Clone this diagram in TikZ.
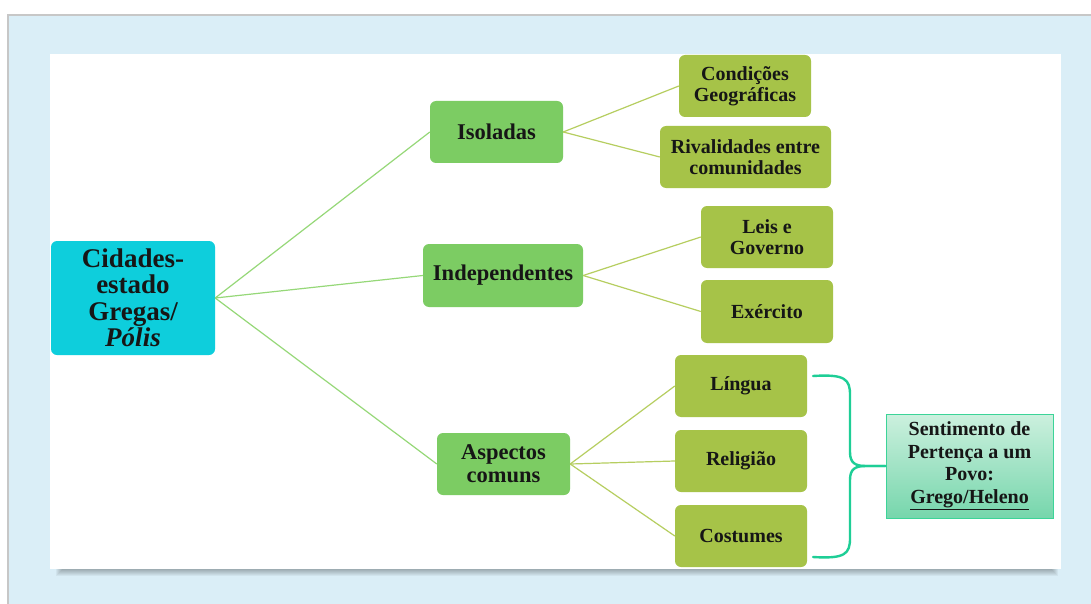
\documentclass[tikz,border=0pt]{standalone}
\usepackage{fontspec}
\setmainfont{Liberation Serif}
\definecolor{bgblue}{RGB}{218,238,247}
\definecolor{rootc}{RGB}{14,206,220}
\definecolor{midc}{RGB}{124,204,99}
\definecolor{leafc}{RGB}{166,195,72}
\definecolor{rootline}{RGB}{150,216,120}
\definecolor{leafline}{RGB}{182,206,96}
\definecolor{bracec}{RGB}{30,206,150}
\definecolor{senttop}{RGB}{204,240,222}
\definecolor{sentbot}{RGB}{118,214,172}
\definecolor{sentdraw}{RGB}{60,212,152}
\definecolor{txt}{RGB}{22,22,22}
\tikzset{
  box/.style={rounded corners=6pt, inner sep=0pt, align=center, text=txt, font=\bfseries},
  rootbox/.style={box, fill=rootc, minimum width=164pt, minimum height=114pt, font=\bfseries\fontsize{27}{26.5}\selectfont},
  midbox/.style={box, fill=midc, minimum height=62pt, font=\bfseries\fontsize{22.5}{23}\selectfont},
  leafbox/.style={box, fill=leafc, minimum height=62pt, minimum width=132pt, font=\bfseries\fontsize{20}{21.5}\selectfont},
  rootlink/.style={rootline, line width=1.2pt},
  leaflink/.style={leafline, line width=1.2pt},
}
\begin{document}
\begin{tikzpicture}[x=1pt,y=-1pt]
\useasboundingbox (0,0) rectangle (1091,604);
\fill[white] (0,0) rectangle (1091,604);
\fill[bgblue] (8,15) rectangle (1091,604);
\draw[black!22, line width=1.2pt] (8,604) -- (8,15) -- (1091,15);
% shadow of panel
\foreach \i in {0,...,7} {
  \fill[black, opacity=0.045] (56+\i,560) rectangle (1058-\i,576-\i);
}
\fill[white] (50,54) rectangle (1061,569);

% nodes
\node[rootbox] (root) at (133,298) {Cidades-\\estado\\Gregas/\\\textit{Pólis}};
\node[midbox, minimum width=133pt] (iso) at (496.5,132) {Isoladas};
\node[midbox, minimum width=160pt, minimum height=63pt] (ind) at (503,275.5) {Independentes};
\node[midbox, minimum width=133pt] (asp) at (503.5,464) {Aspectos\\comuns};

\node[leafbox] (cond) at (745,86) {Condições\\Geográficas};
\node[leafbox, minimum width=171pt] (riv) at (745.5,157) {Rivalidades entre\\comunidades};
\node[leafbox] (leis) at (767,237) {Leis e\\Governo};
\node[leafbox, minimum height=63pt] (exe) at (767,311.5) {Exército};
\node[leafbox] (lin) at (741,386) {Língua};
\node[leafbox] (rel) at (741,461) {Religião};
\node[leafbox] (cos) at (741,536) {Costumes};

\node[draw=sentdraw, line width=1pt, top color=senttop, bottom color=sentbot,
      minimum width=167pt, minimum height=104pt, inner sep=0pt, align=center, text=txt,
      font=\bfseries\fontsize{20}{22.5}\selectfont] (sent) at (969.5,466)
      {Sentimento de\\Pertença a um\\Povo:\\\underline{Grego/Heleno}};

% connectors
\draw[rootlink] (root.east) -- (iso.west);
\draw[rootlink] (root.east) -- (ind.west);
\draw[rootlink] (root.east) -- (asp.west);
\draw[leaflink] (iso.east) -- (cond.west);
\draw[leaflink] (iso.east) -- (riv.west);
\draw[leaflink] (ind.east) -- (leis.west);
\draw[leaflink] (ind.east) -- (exe.west);
\draw[leaflink] (asp.east) -- (lin.west);
\draw[leaflink] (asp.east) -- (rel.west);
\draw[leaflink] (asp.east) -- (cos.west);

% brace
\coordinate (btop) at (813,376);
\coordinate (bbot) at (813,557);
\draw[bracec, line width=2.4pt, line cap=round]
  (btop) .. controls (845,374) and (850,379) .. (850,395) -- (850,452)
  .. controls (850,463) and (855,466) .. (866,466) -- (sent.west);
\draw[bracec, line width=2.4pt, line cap=round]
  (bbot) .. controls (845,559) and (850,554) .. (850,538) -- (850,480)
  .. controls (850,469) and (855,466) .. (866,466) -- (sent.west);
\end{tikzpicture}
\end{document}
